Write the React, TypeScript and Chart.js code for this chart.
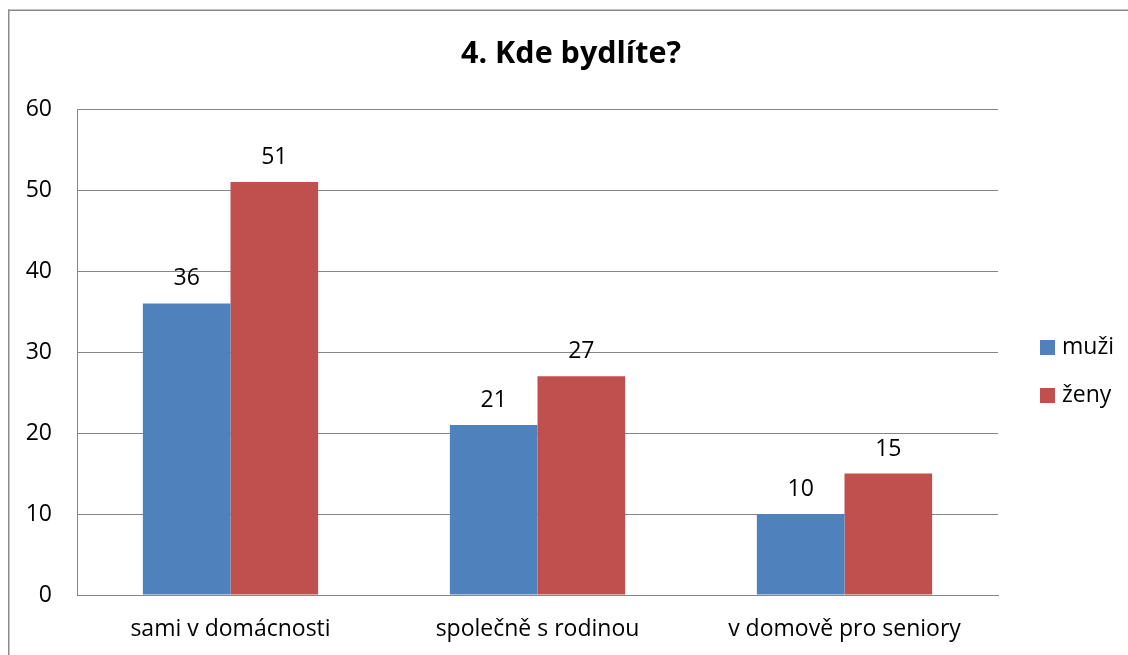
import { useEffect, useRef } from "react";
import { Chart, registerables } from "chart.js";

Chart.register(...registerables);

const chartTitle = "4. Kde bydlíte?";
const categories = ["sami v domácnosti", "společně s rodinou", "v domově pro seniory"];
const seriesNames = ["muži", "ženy"];
const muzi = [36, 21, 10];
const zeny = [51, 27, 15];
const seriesColors = ["#4F81BD", "#C0504D"];
const yMin = 0;
const yMax = 60;
const yStep = 10;

const FONT = "'Open Sans', 'Noto Sans', sans-serif";
const GRID = "#868686";
const LABEL_SIZE = 23;

const framePlugin = {
  id: "frame",
  beforeDraw(chart: any) {
    const ctx = chart.ctx;
    ctx.save();
    ctx.fillStyle = "#ffffff";
    ctx.fillRect(0, 0, chart.width, chart.height);
    ctx.fillStyle = "#8a8a8a";
    ctx.fillRect(8, 9.5, chart.width, 1.5);
    ctx.fillRect(8, 9.5, 1.5, chart.height);
    ctx.restore();
  },
};

const titlePlugin = {
  id: "customTitle",
  afterDraw(chart: any) {
    const ctx = chart.ctx;
    ctx.save();
    ctx.font = `bold 30.5px ${FONT}`;
    ctx.fillStyle = "#000";
    ctx.textAlign = "center";
    ctx.textBaseline = "middle";
    ctx.fillText(chartTitle, 571, 54);
    ctx.restore();
  },
};

const valueLabelPlugin = {
  id: "valueLabels",
  afterDatasetsDraw(chart: any) {
    const ctx = chart.ctx;
    ctx.save();
    ctx.font = `${LABEL_SIZE}px ${FONT}`;
    ctx.fillStyle = "#000";
    ctx.textAlign = "center";
    ctx.textBaseline = "alphabetic";
    chart.data.datasets.forEach((ds: any, di: number) => {
      const meta = chart.getDatasetMeta(di);
      meta.data.forEach((el: any, i: number) => {
        ctx.fillText(String(ds.data[i]), el.x, el.y - 18);
      });
    });
    ctx.restore();
  },
};

const legendPlugin = {
  id: "customLegend",
  afterDraw(chart: any) {
    const ctx = chart.ctx;
    const x = chart.chartArea.right + 42;
    const y0 = 340;
    ctx.save();
    ctx.font = `${LABEL_SIZE}px ${FONT}`;
    ctx.textAlign = "left";
    ctx.textBaseline = "middle";
    chart.data.datasets.forEach((ds: any, i: number) => {
      const y = y0 + i * 48;
      ctx.fillStyle = ds.backgroundColor;
      ctx.fillRect(x, y, 15, 15);
      ctx.fillStyle = "#000";
      ctx.fillText(ds.label, x + 22, y + 7.5);
    });
    ctx.restore();
  },
};

export default function App() {
  const ref = useRef<HTMLCanvasElement | null>(null);

  useEffect(() => {
    if (!ref.current) return;
    const chart = new Chart(ref.current, {
      type: "bar",
      data: {
        labels: categories,
        datasets: [
          { label: seriesNames[0], data: muzi, backgroundColor: seriesColors[0], borderWidth: 0 },
          { label: seriesNames[1], data: zeny, backgroundColor: seriesColors[1], borderWidth: 0 },
        ],
      },
      options: {
        animation: false,
        responsive: false,
        devicePixelRatio: 1,
        layout: { padding: { left: 0, top: 109, right: 130, bottom: 0 } },
        plugins: {
          legend: { display: false },
          title: { display: false },
          tooltip: { enabled: false },
        },
        datasets: {
          bar: { categoryPercentage: 0.571, barPercentage: 1 },
        },
        scales: {
          x: {
            grid: { display: false, drawTicks: false },
            border: { display: true, color: GRID, width: 1 },
            ticks: { color: "#000", font: { family: FONT, size: LABEL_SIZE }, padding: 21, maxRotation: 0, autoSkip: false },
            afterFit: (s: any) => { s.height = 60; },
          },
          y: {
            min: yMin,
            max: yMax,
            grid: { color: GRID, lineWidth: 1, drawTicks: false },
            border: { display: true, color: GRID, width: 1 },
            ticks: { stepSize: yStep, color: "#000", font: { family: FONT, size: LABEL_SIZE }, padding: 25 },
            afterFit: (s: any) => { s.width = 77; },
          },
        },
      } as any,
      plugins: [framePlugin, valueLabelPlugin, titlePlugin, legendPlugin],
    });
    return () => chart.destroy();
  }, []);

  return (
    <div style={{ position: "absolute", left: 0, top: 0, width: 1128, height: 655 }}>
      <canvas ref={ref} width={1128} height={655} />
    </div>
  );
}
